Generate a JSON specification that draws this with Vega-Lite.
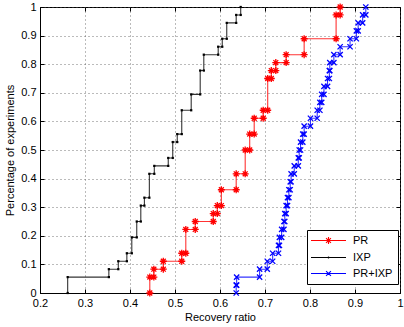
{
  "$schema": "https://vega.github.io/schema/vega-lite/v6.json",
  "width": 360,
  "height": 286,
  "autosize": {"type": "none"},
  "padding": {"left": 40, "top": 7, "right": 4, "bottom": 34},
  "background": "white",
  "config": {
    "font": "Liberation Sans",
    "view": {"stroke": "#000", "strokeWidth": 1},
    "axis": {
      "labelFont": "Liberation Sans",
      "labelFontSize": 11,
      "labelColor": "#000",
      "titleFont": "Liberation Sans",
      "titleFontSize": 11,
      "titleFontWeight": "normal",
      "titleColor": "#000",
      "domainColor": "#000",
      "tickColor": "#000",
      "gridColor": "#555",
      "gridDash": [1, 3],
      "gridOpacity": 0.8
    }
  },
  "datasets": {
    "v": [
      {"s": "PR", "o": 1, "x": 0.444, "y": 0},
      {"s": "PR", "o": 2, "x": 0.444, "y": 0.0556},
      {"s": "PR", "o": 3, "x": 0.453, "y": 0.0556},
      {"s": "PR", "o": 4, "x": 0.453, "y": 0.0833},
      {"s": "PR", "o": 5, "x": 0.474, "y": 0.0833},
      {"s": "PR", "o": 6, "x": 0.474, "y": 0.1111},
      {"s": "PR", "o": 7, "x": 0.515, "y": 0.1111},
      {"s": "PR", "o": 8, "x": 0.515, "y": 0.1389},
      {"s": "PR", "o": 9, "x": 0.524, "y": 0.1389},
      {"s": "PR", "o": 10, "x": 0.524, "y": 0.2222},
      {"s": "PR", "o": 11, "x": 0.545, "y": 0.2222},
      {"s": "PR", "o": 12, "x": 0.545, "y": 0.25},
      {"s": "PR", "o": 13, "x": 0.585, "y": 0.25},
      {"s": "PR", "o": 14, "x": 0.585, "y": 0.2778},
      {"s": "PR", "o": 15, "x": 0.594, "y": 0.2778},
      {"s": "PR", "o": 16, "x": 0.594, "y": 0.3056},
      {"s": "PR", "o": 17, "x": 0.603, "y": 0.3056},
      {"s": "PR", "o": 18, "x": 0.603, "y": 0.3611},
      {"s": "PR", "o": 19, "x": 0.636, "y": 0.3611},
      {"s": "PR", "o": 20, "x": 0.636, "y": 0.4167},
      {"s": "PR", "o": 21, "x": 0.656, "y": 0.4167},
      {"s": "PR", "o": 22, "x": 0.656, "y": 0.5},
      {"s": "PR", "o": 23, "x": 0.666, "y": 0.5},
      {"s": "PR", "o": 24, "x": 0.666, "y": 0.5556},
      {"s": "PR", "o": 25, "x": 0.676, "y": 0.5556},
      {"s": "PR", "o": 26, "x": 0.676, "y": 0.6111},
      {"s": "PR", "o": 27, "x": 0.696, "y": 0.6111},
      {"s": "PR", "o": 28, "x": 0.696, "y": 0.6389},
      {"s": "PR", "o": 29, "x": 0.706, "y": 0.6389},
      {"s": "PR", "o": 30, "x": 0.706, "y": 0.75},
      {"s": "PR", "o": 31, "x": 0.714, "y": 0.75},
      {"s": "PR", "o": 32, "x": 0.714, "y": 0.7778},
      {"s": "PR", "o": 33, "x": 0.724, "y": 0.7778},
      {"s": "PR", "o": 34, "x": 0.724, "y": 0.8056},
      {"s": "PR", "o": 35, "x": 0.747, "y": 0.8056},
      {"s": "PR", "o": 36, "x": 0.747, "y": 0.8333},
      {"s": "PR", "o": 37, "x": 0.787, "y": 0.8333},
      {"s": "PR", "o": 38, "x": 0.787, "y": 0.8889},
      {"s": "PR", "o": 39, "x": 0.858, "y": 0.8889},
      {"s": "PR", "o": 40, "x": 0.858, "y": 0.9722},
      {"s": "PR", "o": 41, "x": 0.867, "y": 0.9722},
      {"s": "PR", "o": 42, "x": 0.867, "y": 1},

      {"s": "IXP", "o": 1, "x": 0.2615, "y": 0},
      {"s": "IXP", "o": 2, "x": 0.2615, "y": 0.0556},
      {"s": "IXP", "o": 3, "x": 0.353, "y": 0.0556},
      {"s": "IXP", "o": 4, "x": 0.353, "y": 0.0833},
      {"s": "IXP", "o": 5, "x": 0.374, "y": 0.0833},
      {"s": "IXP", "o": 6, "x": 0.374, "y": 0.1111},
      {"s": "IXP", "o": 7, "x": 0.393, "y": 0.1111},
      {"s": "IXP", "o": 8, "x": 0.393, "y": 0.1389},
      {"s": "IXP", "o": 9, "x": 0.404, "y": 0.1389},
      {"s": "IXP", "o": 10, "x": 0.404, "y": 0.1944},
      {"s": "IXP", "o": 11, "x": 0.415, "y": 0.1944},
      {"s": "IXP", "o": 12, "x": 0.415, "y": 0.25},
      {"s": "IXP", "o": 13, "x": 0.424, "y": 0.25},
      {"s": "IXP", "o": 14, "x": 0.424, "y": 0.3056},
      {"s": "IXP", "o": 15, "x": 0.432, "y": 0.3056},
      {"s": "IXP", "o": 16, "x": 0.432, "y": 0.3333},
      {"s": "IXP", "o": 17, "x": 0.443, "y": 0.3333},
      {"s": "IXP", "o": 18, "x": 0.443, "y": 0.4167},
      {"s": "IXP", "o": 19, "x": 0.454, "y": 0.4167},
      {"s": "IXP", "o": 20, "x": 0.454, "y": 0.4444},
      {"s": "IXP", "o": 21, "x": 0.485, "y": 0.4444},
      {"s": "IXP", "o": 22, "x": 0.485, "y": 0.4722},
      {"s": "IXP", "o": 23, "x": 0.495, "y": 0.4722},
      {"s": "IXP", "o": 24, "x": 0.495, "y": 0.5278},
      {"s": "IXP", "o": 25, "x": 0.505, "y": 0.5278},
      {"s": "IXP", "o": 26, "x": 0.505, "y": 0.5556},
      {"s": "IXP", "o": 27, "x": 0.515, "y": 0.5556},
      {"s": "IXP", "o": 28, "x": 0.515, "y": 0.6389},
      {"s": "IXP", "o": 29, "x": 0.536, "y": 0.6389},
      {"s": "IXP", "o": 30, "x": 0.536, "y": 0.6944},
      {"s": "IXP", "o": 31, "x": 0.556, "y": 0.6944},
      {"s": "IXP", "o": 32, "x": 0.556, "y": 0.7778},
      {"s": "IXP", "o": 33, "x": 0.564, "y": 0.7778},
      {"s": "IXP", "o": 34, "x": 0.564, "y": 0.8333},
      {"s": "IXP", "o": 35, "x": 0.596, "y": 0.8333},
      {"s": "IXP", "o": 36, "x": 0.596, "y": 0.8611},
      {"s": "IXP", "o": 37, "x": 0.605, "y": 0.8611},
      {"s": "IXP", "o": 38, "x": 0.605, "y": 0.8889},
      {"s": "IXP", "o": 39, "x": 0.615, "y": 0.8889},
      {"s": "IXP", "o": 40, "x": 0.615, "y": 0.9444},
      {"s": "IXP", "o": 41, "x": 0.636, "y": 0.9444},
      {"s": "IXP", "o": 42, "x": 0.636, "y": 0.9722},
      {"s": "IXP", "o": 43, "x": 0.646, "y": 0.9722},
      {"s": "IXP", "o": 44, "x": 0.646, "y": 1},

      {"s": "PR+IXP", "o": 1, "x": 0.636, "y": 0},
      {"s": "PR+IXP", "o": 2, "x": 0.636, "y": 0.0278},
      {"s": "PR+IXP", "o": 3, "x": 0.637, "y": 0.0278},
      {"s": "PR+IXP", "o": 4, "x": 0.637, "y": 0.0556},
      {"s": "PR+IXP", "o": 5, "x": 0.688, "y": 0.0556},
      {"s": "PR+IXP", "o": 6, "x": 0.688, "y": 0.0833},
      {"s": "PR+IXP", "o": 7, "x": 0.705, "y": 0.0833},
      {"s": "PR+IXP", "o": 8, "x": 0.705, "y": 0.1111},
      {"s": "PR+IXP", "o": 9, "x": 0.717, "y": 0.1111},
      {"s": "PR+IXP", "o": 10, "x": 0.717, "y": 0.1389},
      {"s": "PR+IXP", "o": 11, "x": 0.73, "y": 0.1389},
      {"s": "PR+IXP", "o": 12, "x": 0.73, "y": 0.1667},
      {"s": "PR+IXP", "o": 13, "x": 0.732, "y": 0.1667},
      {"s": "PR+IXP", "o": 14, "x": 0.732, "y": 0.1944},
      {"s": "PR+IXP", "o": 15, "x": 0.737, "y": 0.1944},
      {"s": "PR+IXP", "o": 16, "x": 0.737, "y": 0.2222},
      {"s": "PR+IXP", "o": 17, "x": 0.742, "y": 0.2222},
      {"s": "PR+IXP", "o": 18, "x": 0.742, "y": 0.25},
      {"s": "PR+IXP", "o": 19, "x": 0.744, "y": 0.25},
      {"s": "PR+IXP", "o": 20, "x": 0.744, "y": 0.2778},
      {"s": "PR+IXP", "o": 21, "x": 0.747, "y": 0.2778},
      {"s": "PR+IXP", "o": 22, "x": 0.747, "y": 0.3056},
      {"s": "PR+IXP", "o": 23, "x": 0.75, "y": 0.3056},
      {"s": "PR+IXP", "o": 24, "x": 0.75, "y": 0.3333},
      {"s": "PR+IXP", "o": 25, "x": 0.753, "y": 0.3333},
      {"s": "PR+IXP", "o": 26, "x": 0.753, "y": 0.3611},
      {"s": "PR+IXP", "o": 27, "x": 0.756, "y": 0.3611},
      {"s": "PR+IXP", "o": 28, "x": 0.756, "y": 0.3889},
      {"s": "PR+IXP", "o": 29, "x": 0.758, "y": 0.3889},
      {"s": "PR+IXP", "o": 30, "x": 0.758, "y": 0.4167},
      {"s": "PR+IXP", "o": 31, "x": 0.765, "y": 0.4167},
      {"s": "PR+IXP", "o": 32, "x": 0.765, "y": 0.4444},
      {"s": "PR+IXP", "o": 33, "x": 0.774, "y": 0.4444},
      {"s": "PR+IXP", "o": 34, "x": 0.774, "y": 0.4722},
      {"s": "PR+IXP", "o": 35, "x": 0.776, "y": 0.4722},
      {"s": "PR+IXP", "o": 36, "x": 0.776, "y": 0.5},
      {"s": "PR+IXP", "o": 37, "x": 0.779, "y": 0.5},
      {"s": "PR+IXP", "o": 38, "x": 0.779, "y": 0.5278},
      {"s": "PR+IXP", "o": 39, "x": 0.784, "y": 0.5278},
      {"s": "PR+IXP", "o": 40, "x": 0.784, "y": 0.5556},
      {"s": "PR+IXP", "o": 41, "x": 0.787, "y": 0.5556},
      {"s": "PR+IXP", "o": 42, "x": 0.787, "y": 0.5833},
      {"s": "PR+IXP", "o": 43, "x": 0.801, "y": 0.5833},
      {"s": "PR+IXP", "o": 44, "x": 0.801, "y": 0.6111},
      {"s": "PR+IXP", "o": 45, "x": 0.816, "y": 0.6111},
      {"s": "PR+IXP", "o": 46, "x": 0.816, "y": 0.6389},
      {"s": "PR+IXP", "o": 47, "x": 0.822, "y": 0.6389},
      {"s": "PR+IXP", "o": 48, "x": 0.822, "y": 0.6667},
      {"s": "PR+IXP", "o": 49, "x": 0.826, "y": 0.6667},
      {"s": "PR+IXP", "o": 50, "x": 0.826, "y": 0.6944},
      {"s": "PR+IXP", "o": 51, "x": 0.831, "y": 0.6944},
      {"s": "PR+IXP", "o": 52, "x": 0.831, "y": 0.7222},
      {"s": "PR+IXP", "o": 53, "x": 0.839, "y": 0.7222},
      {"s": "PR+IXP", "o": 54, "x": 0.839, "y": 0.75},
      {"s": "PR+IXP", "o": 55, "x": 0.843, "y": 0.75},
      {"s": "PR+IXP", "o": 56, "x": 0.843, "y": 0.7778},
      {"s": "PR+IXP", "o": 57, "x": 0.844, "y": 0.7778},
      {"s": "PR+IXP", "o": 58, "x": 0.844, "y": 0.8056},
      {"s": "PR+IXP", "o": 59, "x": 0.853, "y": 0.8056},
      {"s": "PR+IXP", "o": 60, "x": 0.853, "y": 0.8333},
      {"s": "PR+IXP", "o": 61, "x": 0.867, "y": 0.8333},
      {"s": "PR+IXP", "o": 62, "x": 0.867, "y": 0.8611},
      {"s": "PR+IXP", "o": 63, "x": 0.889, "y": 0.8611},
      {"s": "PR+IXP", "o": 64, "x": 0.889, "y": 0.8889},
      {"s": "PR+IXP", "o": 65, "x": 0.903, "y": 0.8889},
      {"s": "PR+IXP", "o": 66, "x": 0.903, "y": 0.9167},
      {"s": "PR+IXP", "o": 67, "x": 0.907, "y": 0.9167},
      {"s": "PR+IXP", "o": 68, "x": 0.907, "y": 0.9444},
      {"s": "PR+IXP", "o": 69, "x": 0.917, "y": 0.9444},
      {"s": "PR+IXP", "o": 70, "x": 0.917, "y": 0.9722},
      {"s": "PR+IXP", "o": 71, "x": 0.924, "y": 0.9722},
      {"s": "PR+IXP", "o": 72, "x": 0.924, "y": 1}
    ]
  },
  "data": {"name": "v"},
  "resolve": {"axis": {"x": "independent", "y": "independent"}},
  "layer": [
    {
      "mark": {"type": "line", "strokeWidth": 1.1, "strokeOpacity": 0.8},
      "encoding": {
        "x": {
          "field": "x", "type": "quantitative",
          "scale": {"domain": [0.2, 1], "nice": false, "zero": false},
          "axis": {
            "title": "Recovery ratio",
            "values": [0.2, 0.3, 0.4, 0.5, 0.6, 0.7, 0.8, 0.9, 1],
            "format": "~g",
            "grid": true,
            "tickSize": -4,
            "labelPadding": 8,
            "titlePadding": 3,
            "labelFlush": false
          }
        },
        "y": {
          "field": "y", "type": "quantitative",
          "scale": {"domain": [0, 1], "nice": false},
          "axis": {
            "title": "Percentage of experiments",
            "values": [0, 0.1, 0.2, 0.3, 0.4, 0.5, 0.6, 0.7, 0.8, 0.9, 1],
            "format": "~g",
            "grid": true,
            "tickSize": -4,
            "labelPadding": 8,
            "titlePadding": 5,
            "labelFlush": false
          }
        },
        "color": {
          "field": "s", "type": "nominal",
          "scale": {"domain": ["PR", "IXP", "PR+IXP"], "range": ["#ff0000", "#000000", "#0000ff"]},
          "legend": {
            "title": null,
            "orient": "none",
            "legendX": 267,
            "legendY": 223,
            "direction": "vertical",
            "fillColor": "white",
            "strokeColor": "#000",
            "padding": 5,
            "labelFont": "Liberation Sans",
            "labelFontSize": 11,
            "labelColor": "#000",
            "symbolSize": 49,
            "symbolStrokeWidth": 1.1,
            "symbolOffset": 11,
            "labelOffset": 19,
            "rowPadding": 4,
            "encode": {
              "symbols": {
                "update": {
                  "shape": {"signal": "datum.value === 'PR' ? 'M-5,0L5,0M-1,0L1,0M0,-1L0,1M-0.7,-0.7L0.7,0.7M-0.7,0.7L0.7,-0.7' : datum.value === 'IXP' ? 'M-5,0L5,0M-0.2,-0.2L0.2,0.2M-0.2,0.2L0.2,-0.2' : 'M-5,0L5,0M-0.7,-0.7L0.7,0.7M-0.7,0.7L0.7,-0.7'"},
                  "fill": {"value": "transparent"}
                }
              }
            }
          }
        },
        "detail": {"field": "s"},
        "order": {"field": "o", "type": "quantitative"}
      }
    },
    {
      "transform": [{"filter": "datum.s === 'PR'"}],
      "mark": {"type": "point", "filled": false, "strokeWidth": 1.3, "opacity": 1, "size": 49,
        "shape": "M-1,0L1,0M0,-1L0,1M-0.7,-0.7L0.7,0.7M-0.7,0.7L0.7,-0.7"},
      "encoding": {
        "x": {"field": "x", "type": "quantitative", "axis": null},
        "y": {"field": "y", "type": "quantitative", "axis": null},
        "color": {"field": "s", "type": "nominal", "legend": null}
      }
    },
    {
      "transform": [{"filter": "datum.s === 'IXP'"}],
      "mark": {"type": "point", "filled": false, "strokeWidth": 1.2, "opacity": 1, "size": 49,
        "shape": "M-0.15,-0.15L0.15,-0.15L0.15,0.15L-0.15,0.15Z"},
      "encoding": {
        "x": {"field": "x", "type": "quantitative", "axis": null},
        "y": {"field": "y", "type": "quantitative", "axis": null},
        "color": {"field": "s", "type": "nominal", "legend": null}
      }
    },
    {
      "transform": [{"filter": "datum.s === 'PR+IXP'"}],
      "mark": {"type": "point", "filled": false, "strokeWidth": 1.3, "opacity": 1, "size": 49,
        "shape": "M-0.75,-0.75L0.75,0.75M-0.75,0.75L0.75,-0.75"},
      "encoding": {
        "x": {"field": "x", "type": "quantitative", "axis": null},
        "y": {"field": "y", "type": "quantitative", "axis": null},
        "color": {"field": "s", "type": "nominal", "legend": null}
      }
    },
    {
      "mark": {"type": "point", "opacity": 0},
      "encoding": {
        "x": {
          "field": "x", "type": "quantitative",
          "axis": {"orient": "top", "title": null, "labels": false, "grid": false, "domain": false, "tickSize": -4,
            "values": [0.2, 0.3, 0.4, 0.5, 0.6, 0.7, 0.8, 0.9, 1]}
        },
        "y": {
          "field": "y", "type": "quantitative",
          "axis": {"orient": "right", "title": null, "labels": false, "grid": false, "domain": false, "tickSize": -4,
            "values": [0, 0.1, 0.2, 0.3, 0.4, 0.5, 0.6, 0.7, 0.8, 0.9, 1]}
        }
      }
    }
  ]
}
